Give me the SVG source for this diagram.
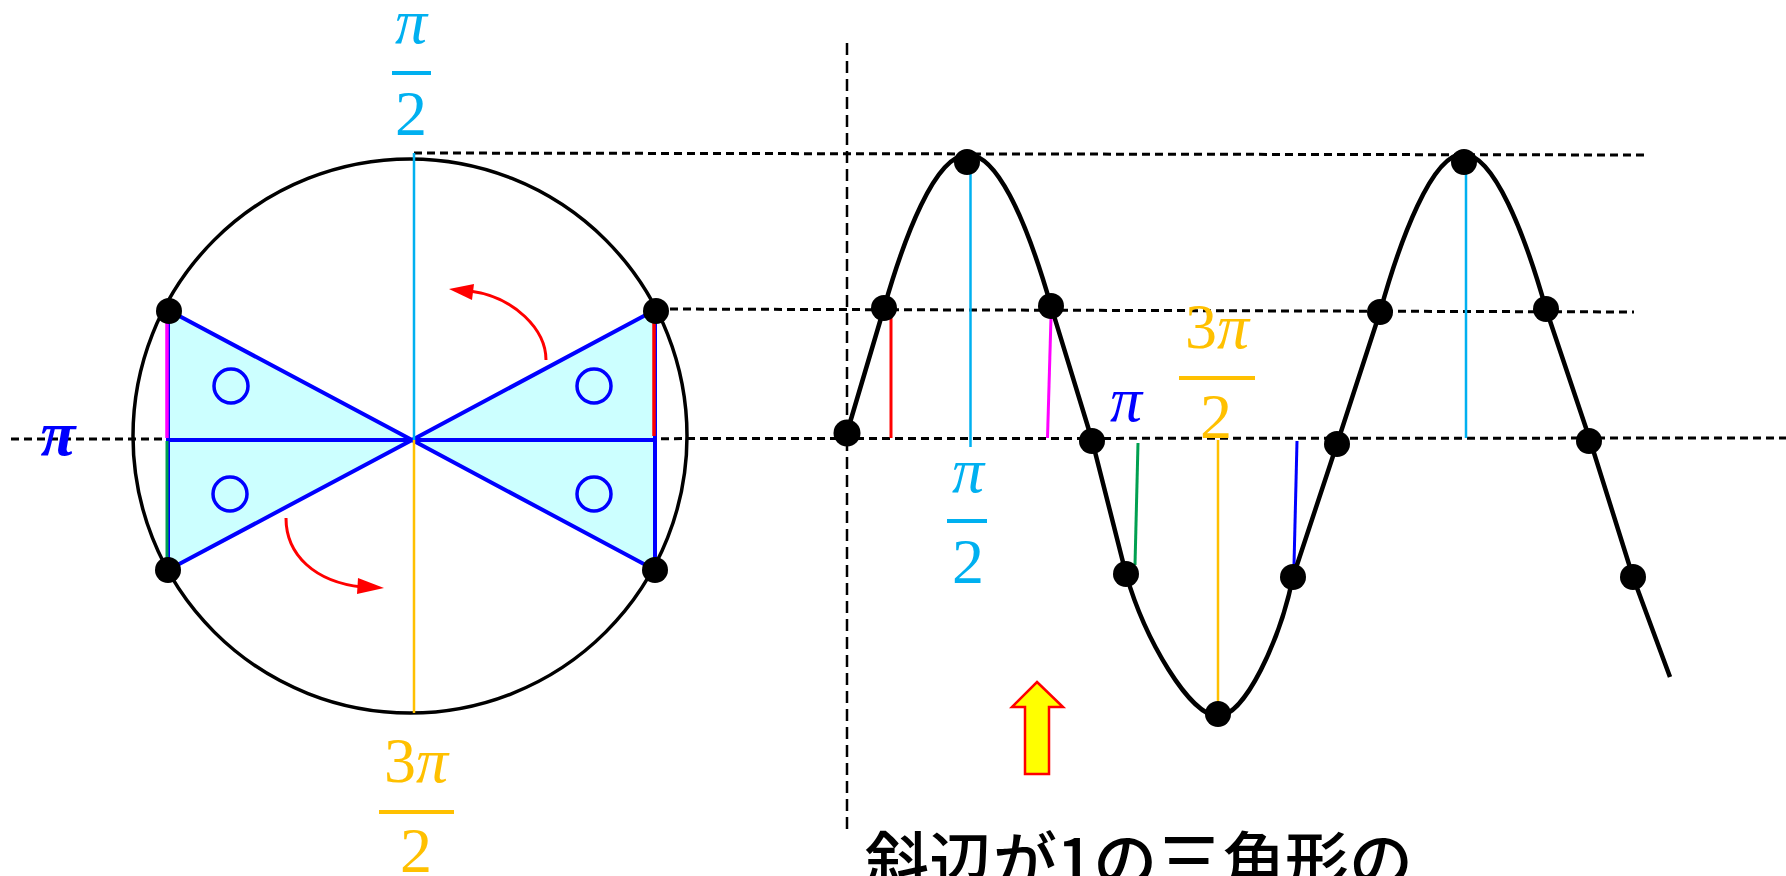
<svg xmlns="http://www.w3.org/2000/svg" width="1786" height="876" viewBox="0 0 1786 876">
<style>
.dash{stroke:#000;stroke-width:3;stroke-dasharray:8 5;fill:none}
.vdash{stroke:#000;stroke-width:2.5;stroke-dasharray:12 6;fill:none}
.dot{fill:#000}
.tri{fill:#ccffff;stroke:#0000ff;stroke-width:4;stroke-linejoin:miter}
.bl{stroke:#0000ff;stroke-width:4}
.oc{fill:none;stroke:#0000ff;stroke-width:3.5}
.cy{stroke:#00b0f0;stroke-width:2.5}
.or{stroke:#ffc000;stroke-width:2.5}
.lbl{font-family:"Liberation Serif",serif;font-size:64px;text-anchor:middle}
.pi{font-style:italic}
.red{stroke:#ff0000;stroke-width:3;fill:none}
</style>

<g id="guides">
<line class="dash" x1="11" y1="439" x2="1786" y2="438"/>
<line class="dash" x1="414" y1="153" x2="1646" y2="155"/>
<line class="dash" x1="657" y1="309" x2="1634" y2="312"/>
<line class="vdash" x1="847" y1="43" x2="847" y2="835"/>
</g>

<g id="unit-circle">
<circle cx="410" cy="436" r="277" fill="none" stroke="#000" stroke-width="3.5"/>
<polygon class="tri" points="168,310 412,440 168,570"/>
<polygon class="tri" points="655,310 412,440 655,570"/>
<line class="bl" x1="168" y1="440" x2="655" y2="440"/>
<line stroke="#ff00ff" stroke-width="3.5" x1="167" y1="312" x2="167" y2="438"/>
<line stroke="#00a050" stroke-width="3" x1="167" y1="441" x2="167" y2="568"/>
<line stroke="#ff0000" stroke-width="3.5" x1="654" y1="312" x2="654" y2="436"/>
<line class="cy" x1="414" y1="153" x2="414" y2="440"/>
<line class="or" x1="414" y1="440" x2="414" y2="713"/>
<circle class="oc" cx="231" cy="386" r="17"/>
<circle class="oc" cx="594" cy="386" r="17"/>
<circle class="oc" cx="230" cy="494" r="17"/>
<circle class="oc" cx="594" cy="494" r="17"/>
<circle class="dot" cx="169" cy="311" r="13"/>
<circle class="dot" cx="656" cy="311" r="13"/>
<circle class="dot" cx="168" cy="570" r="13"/>
<circle class="dot" cx="655" cy="570" r="13"/>
<path class="red" d="M546,360 C546,330 515,297 470,291"/>
<path d="M449,289 L474,284 L472,300 z" fill="#ff0000"/>
<path class="red" d="M286,518 C286,555 315,582 362,587"/>
<path d="M384,588 L358,578 L357,594 z" fill="#ff0000"/>
</g>

<g id="label-pi2-top" class="lbl" fill="#00b0f0">
<text class="pi" x="411" y="43">π</text>
<rect x="392" y="71" width="39" height="4" fill="#00b0f0"/>
<text x="411" y="135">2</text>
</g>
<g id="label-pi-left" class="lbl" fill="#0000ff">
<text class="pi" x="58" y="455" font-weight="bold">π</text>
</g>
<g id="label-3pi2-left" class="lbl" fill="#ffc000">
<text x="416" y="782">3<tspan class="pi">π</tspan></text>
<rect x="379" y="810" width="75" height="4" fill="#ffc000"/>
<text x="416" y="872">2</text>
</g>

<g id="sine">
<line stroke="#ff0000" stroke-width="3" x1="891" y1="318" x2="891" y2="438"/>
<line class="cy" x1="970.5" y1="162" x2="970.5" y2="447"/>
<line stroke="#ff00ff" stroke-width="3" x1="1051" y1="317" x2="1047.5" y2="438"/>
<line stroke="#00a050" stroke-width="3" x1="1138" y1="443" x2="1135" y2="565"/>
<line class="or" x1="1218" y1="440" x2="1218" y2="718"/>
<line stroke="#0000ff" stroke-width="3" x1="1297" y1="441" x2="1294" y2="565"/>
<line class="cy" x1="1466" y1="153" x2="1466" y2="438"/>
<path fill="none" stroke="#000" stroke-width="4.5" stroke-linejoin="round" stroke-linecap="butt"
 d="M846,436 L884,308 C904,238 935,155 967,155 C995,152 1025,215 1051,306 L1092,440 L1126,574 C1145,640 1190,716 1218,716 C1245,716 1280,640 1293,577 L1337,444 L1380,312 C1400,240 1432,154 1463,154 C1494,154 1525,235 1546,309 L1589,437 L1633,577 L1670,677"/>
<circle class="dot" cx="847" cy="433" r="13.5"/>
<circle class="dot" cx="884" cy="308" r="13"/>
<circle class="dot" cx="967" cy="162" r="13"/>
<circle class="dot" cx="1051" cy="306" r="13"/>
<circle class="dot" cx="1092" cy="441" r="13"/>
<circle class="dot" cx="1126" cy="574" r="13"/>
<circle class="dot" cx="1218" cy="714" r="13"/>
<circle class="dot" cx="1293" cy="577" r="13"/>
<circle class="dot" cx="1337" cy="444" r="13"/>
<circle class="dot" cx="1380" cy="312" r="13"/>
<circle class="dot" cx="1464" cy="162" r="13"/>
<circle class="dot" cx="1546" cy="309" r="13"/>
<circle class="dot" cx="1589" cy="441" r="13"/>
<circle class="dot" cx="1633" cy="577" r="13"/>
</g>

<g id="label-pi-right" class="lbl" fill="#0000ff">
<text class="pi" x="1126" y="421">π</text>
</g>
<g id="label-3pi2-right" class="lbl" fill="#ffc000">
<text x="1217" y="348">3<tspan class="pi">π</tspan></text>
<rect x="1179" y="376" width="76" height="4" fill="#ffc000"/>
<text x="1216" y="438">2</text>
</g>
<g id="label-pi2-right" class="lbl" fill="#00b0f0">
<text class="pi" x="968" y="492">π</text>
<rect x="947" y="519" width="40" height="4" fill="#00b0f0"/>
<text x="968" y="583">2</text>
</g>

<g id="yellow-arrow">
<polygon points="1037,682 1063,707 1049,707 1049,774 1025,774 1025,707 1012,707" fill="#ffff00" stroke="#ff0000" stroke-width="2.5" stroke-linejoin="miter"/>
</g>

<g id="caption">
<text x="865" y="884" font-family="'Noto Sans CJK JP','Noto Sans CJK SC',sans-serif" font-size="63" font-weight="500" fill="#000" textLength="548" lengthAdjust="spacingAndGlyphs">斜辺が1の三角形の</text>
</g>
</svg>
